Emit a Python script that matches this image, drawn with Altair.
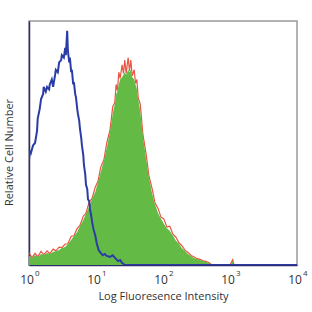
import altair as alt
import pandas as pd

# Isotype control (blue line): log10 intensity, % of max
blue_logx = [0.00, 0.015, 0.03, 0.06, 0.09, 0.12, 0.13, 0.16, 0.18, 0.21, 0.22, 0.25, 0.27, 0.30, 0.31,
             0.34, 0.36, 0.39, 0.40, 0.43, 0.45, 0.48, 0.49, 0.52, 0.54, 0.55, 0.57, 0.58, 0.60, 0.61,
             0.63, 0.64, 0.66, 0.67, 0.69, 0.70, 0.72, 0.73, 0.75, 0.76, 0.78, 0.79, 0.81, 0.82, 0.84,
             0.85, 0.87, 0.88, 0.90, 0.91, 0.93, 0.94, 0.96, 0.99, 1.01, 1.04, 1.07, 1.10, 1.13, 1.16,
             1.21, 1.25, 1.28, 1.33, 1.36, 1.39, 1.43, 2.0, 3.0, 4.0]
blue_pct = [43, 47, 46, 49, 50, 55, 60, 64, 68, 70, 73, 71, 73, 72, 74,
            76, 73, 78, 80, 79, 83, 84, 86, 85, 89, 86, 96, 88, 83, 85,
            79, 80, 74, 75, 70, 69, 64, 62, 59, 56, 52, 49, 45, 41, 37,
            33, 31, 27, 26, 23, 20, 18, 15, 12, 9, 6, 5, 4, 4.5, 3.7,
            3.3, 4, 3, 1.6, 2, 0.8, 0, 0, 0, 0]

# Stained sample (green fill, red outline)
green_logx = [0.00, 0.045, 0.09, 0.13, 0.18, 0.22, 0.27, 0.31, 0.36, 0.40, 0.45, 0.49, 0.54, 0.58, 0.63,
              0.67, 0.72, 0.76, 0.81, 0.85, 0.90, 0.94, 0.99, 1.03, 1.07, 1.12, 1.16, 1.21, 1.25, 1.28,
              1.30, 1.32, 1.34, 1.36, 1.39, 1.41, 1.43, 1.45, 1.48, 1.50, 1.52, 1.54, 1.57, 1.59, 1.61,
              1.63, 1.66, 1.70, 1.75, 1.79, 1.84, 1.88, 1.93, 1.97, 2.01, 2.06, 2.10, 2.15, 2.19, 2.24,
              2.28, 2.33, 2.37, 2.42, 2.46, 2.51, 2.55, 2.60, 2.64, 2.69, 2.73, 3.00, 3.04, 3.06, 3.10, 4.0]
green_pct = [3.7, 2.9, 4.1, 3.3, 4.5, 4.1, 4.9, 4.5, 5.3, 5.7, 6.1, 7.0, 7.4, 8.6, 10.2,
             11.9, 13.5, 16, 18.4, 21, 24, 27, 30, 34, 38, 43, 48, 55, 62, 66,
             70, 71, 74, 76, 77, 78, 79, 78, 80, 79, 80, 77, 76, 74, 72,
             68, 63, 53, 43, 36, 29, 25, 21, 19, 17, 15, 14, 12, 10, 8.6,
             7, 5.7, 4.5, 3.7, 2.9, 2.5, 2, 1.6, 1.2, 0.8, 0, 0, 1.5, 0, 0, 0]
red_pct = [5.0, 3.0, 4.8, 3.4, 5.6, 4.2, 5.8, 4.6, 6.5, 5.8, 7.3, 7.1, 8.6, 8.7, 11.8,
           12.0, 15.0, 16.2, 20.0, 21.2, 26.0, 27.2, 32.0, 34.3, 40.0, 43.4, 50.0, 55.5, 65.0, 66.5,
           74.0, 71.5, 79.0, 76.5, 82.0, 78.5, 84.0, 78.5, 85.0, 79.5, 84.0, 77.5, 80.0, 74.5, 76.0,
           68.5, 66.0, 53.5, 45.0, 36.5, 31.0, 25.5, 23.0, 19.5, 19.0, 15.5, 16.0, 12.5, 11.5, 9.0,
           8.0, 6.0, 5.2, 3.9, 3.4, 2.6, 2.3, 1.7, 1.5, 0.9, 0, 0, 2.2, 0, 0, 0]

tick_values = [0, 1, 2, 3, 4]
tick_exps = ["0", "1", "2", "3", "4"]

blue_df = pd.DataFrame({"x": blue_logx, "y": blue_pct})
green_df = pd.DataFrame({"x": green_logx, "y": green_pct, "r": red_pct})
tick_df = pd.DataFrame({"x": tick_values, "e": tick_exps})

FONT = "Open Sans"
W, H = 268, 244

xs = alt.Scale(domain=[0, 4], nice=False, zero=False)
ys = alt.Scale(domain=[0, 100], nice=False)

x_axis = alt.Axis(labels=False, ticks=False, grid=False, domainColor="#2d2d6e", domainWidth=1.5,
                  title="Log Fluoresence Intensity", titleFont=FONT, titleFontSize=11,
                  titleFontWeight="normal", titleColor="#333333", titlePadding=25)
y_axis = alt.Axis(labels=False, ticks=False, grid=False, domainColor="#2d2d6e", domainWidth=1.5,
                  title="Relative Cell Number", titleFont=FONT, titleFontSize=11,
                  titleFontWeight="normal", titleColor="#333333", titlePadding=15,
                  titleY=131, titleAlign="center")

red = alt.Chart(green_df).mark_line(color="#e5432f", strokeWidth=1.2, opacity=0.9, clip=True).encode(
    x=alt.X("x:Q", scale=xs, axis=x_axis),
    y=alt.Y("r:Q", scale=ys, axis=y_axis),
)
area = alt.Chart(green_df).mark_area(color="#63bb45", interpolate="linear", clip=True).encode(
    x=alt.X("x:Q", scale=xs),
    y=alt.Y("y:Q", scale=ys),
)
blue = alt.Chart(blue_df).mark_line(color="#2a3ca6", strokeWidth=2, clip=True).encode(
    x=alt.X("x:Q", scale=xs),
    y=alt.Y("y:Q", scale=ys),
)
base_lbl = alt.Chart(tick_df).mark_text(font=FONT, fontSize=12, color="#333333", align="center",
                                        baseline="middle", dx=-2).encode(
    x=alt.X("x:Q", scale=xs),
    y=alt.value(H + 15),
    text=alt.value("10"),
)
exp_lbl = alt.Chart(tick_df).mark_text(font=FONT, fontSize=8, color="#333333", align="left",
                                       baseline="middle", dx=6).encode(
    x=alt.X("x:Q", scale=xs),
    y=alt.value(H + 9),
    text="e:N",
)

chart = alt.layer(red, area, blue, base_lbl, exp_lbl).properties(
    width=W, height=H,
    autosize=alt.AutoSizeParams(type="none"),
    padding={"left": 29, "top": 21, "right": 15, "bottom": 47},
    background="white",
).configure_view(stroke="#9a9a9a", strokeWidth=1.5)

chart.save("out.html", embed_options={"renderer": "svg", "actions": False})
